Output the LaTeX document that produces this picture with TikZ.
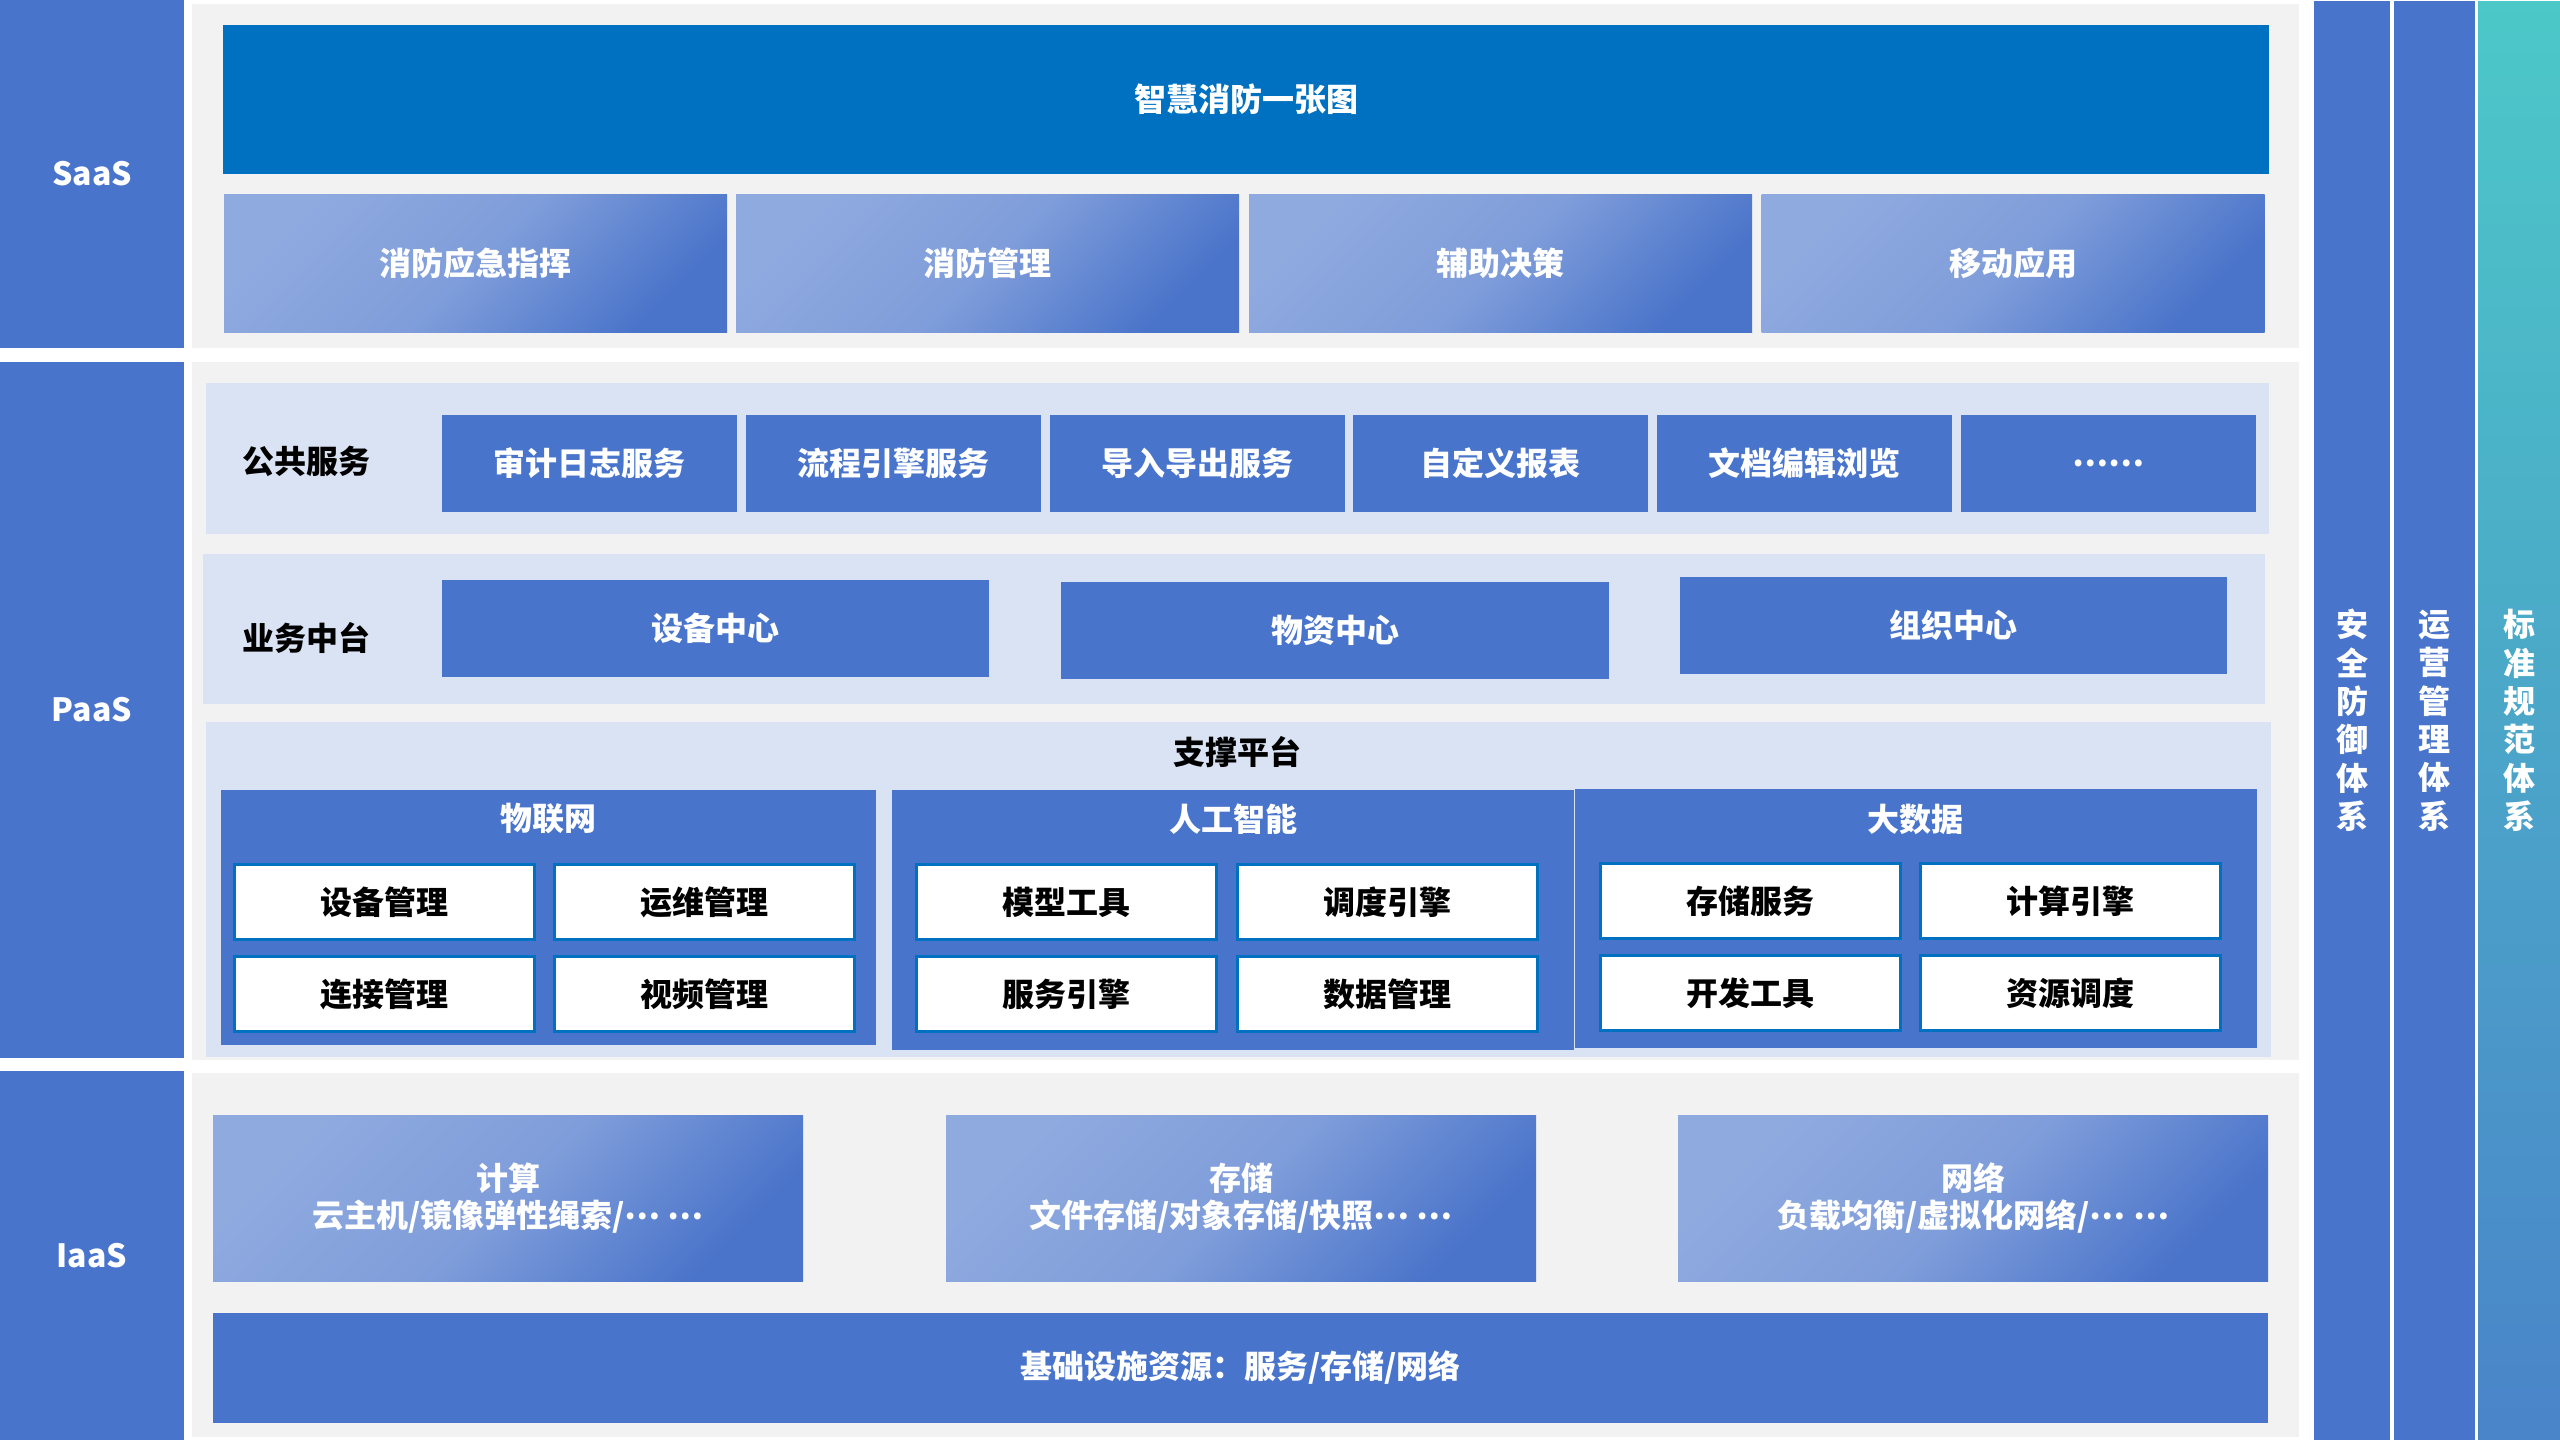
\documentclass[tikz,border=0pt]{standalone}
\usepackage{fontspec}
\setmainfont{Noto Sans CJK SC}
\usepackage{xcolor}
\usepackage{tikz}
\definecolor{layerblue}{HTML}{4874CB}
\definecolor{panelgray}{HTML}{F2F2F2}
\definecolor{bandblue}{HTML}{DAE3F3}
\definecolor{topblue}{HTML}{0070C0}
\definecolor{gradlight}{HTML}{8FAADF}
\definecolor{gradmid}{HTML}{7F9DDA}
\definecolor{graddark}{HTML}{4A74CA}
\definecolor{stdteal}{HTML}{4CC8C8}
\definecolor{stdblue}{HTML}{4A84C9}
\tikzset{
  archtext/.style={font=\fontsize{32}{37}\selectfont\bfseries,inner sep=0pt,outer sep=0pt,align=center},
  layerbar/.style={archtext,fill=layerblue,text=white,minimum width=184pt},
  layerpanel/.style={fill=panelgray,inner sep=0pt,minimum width=2107pt},
  topbox/.style={archtext,fill=topblue,text=white,minimum width=2046pt,minimum height=149pt},
  gradbox/.style={archtext,top color=gradlight,bottom color=graddark,middle color=gradmid,shading angle=45,text=white},
  band/.style={fill=bandblue,inner sep=0pt},
  bandlabel/.style={archtext,text=black},
  svcbox/.style={archtext,fill=layerblue,text=white,minimum height=97pt},
  grpbox/.style={fill=layerblue,inner sep=0pt},
  grptitle/.style={archtext,text=white},
  modbox/.style={archtext,draw=topblue,line width=3pt,fill=white,text=black,minimum width=300pt,minimum height=75pt},
  sidebar/.style={archtext,fill=layerblue,text=white,minimum height=1439pt,font=\fontsize{32}{38.4}\selectfont\bfseries}
}
\begin{document}
\begin{tikzpicture}[x=1pt,y=-1pt]
\useasboundingbox (0,0) rectangle (2560,1440);
% layer bars and panels
\node[layerbar,minimum height=348pt] (saas) at (92,174) {SaaS};
\node[layerbar,minimum height=696pt] (paas) at (92,710) {PaaS};
\node[layerbar,minimum height=369pt] (iaas) at (92,1255.5) {IaaS};
\node[layerpanel,minimum height=344pt] (saaspanel) at (1245.5,176) {};
\node[layerpanel,minimum height=698pt] (paaspanel) at (1245.5,711) {};
\node[layerpanel,minimum height=364pt] (iaaspanel) at (1245.5,1255) {};
% SaaS
\node[topbox] (firemap) at (1246,99.5) {智慧消防一张图};
\foreach \x/\t [count=\i] in {475.5/消防应急指挥,987.5/消防管理,1500.5/辅助决策,2013/移动应用}
  {\node[gradbox,minimum width=503pt,minimum height=138pt] (app\i) at (\x,263) {\t};}
% PaaS
\node[band,minimum width=2063pt,minimum height=151pt] (pubband) at (1237.5,458.5) {};
\node[bandlabel] (pub) at (306,461) {公共服务};
\foreach \x/\t [count=\i] in {589.5/审计日志服务,893.5/流程引擎服务,1197/导入导出服务,1500.5/自定义报表,1804.5/文档编辑浏览,2108/……}
  {\node[svcbox,minimum width=295pt] (svc\i) at (\x,463.5) {\t};}
\node[band,minimum width=2062pt,minimum height=150pt] (bizband) at (1234,629) {};
\node[bandlabel] (biz) at (306,638) {业务中台};
\node[svcbox,minimum width=547pt] (devcenter) at (715.5,628) {设备中心};
\node[svcbox,minimum width=548pt] (matcenter) at (1335,630.5) {物资中心};
\node[svcbox,minimum width=547pt] (orgcenter) at (1953.5,625.5) {组织中心};
\node[band,minimum width=2065pt,minimum height=335pt] (supband) at (1238.5,889.5) {};
\node[bandlabel] (sup) at (1237,752) {支撑平台};
\node[grpbox,minimum width=655pt,minimum height=255pt] (iot) at (548.5,917.5) {};
\node[grpbox,minimum width=682pt,minimum height=260pt] (ai) at (1233,920) {};
\node[grpbox,minimum width=682pt,minimum height=259pt] (bigdata) at (1916,918.5) {};
\node[grptitle] (iottitle) at (548,819) {物联网};
\node[grptitle] (aititle) at (1233,819) {人工智能};
\node[grptitle] (bdtitle) at (1915,819) {大数据};
\foreach \x/\y/\t [count=\i] in {384.5/902/设备管理,704.5/902/运维管理,384.5/994/连接管理,704.5/994/视频管理,
  1066.5/902/模型工具,1387/902/调度引擎,1066.5/994/服务引擎,1387/994/数据管理,
  1750/901/存储服务,2070.5/901/计算引擎,1750/993/开发工具,2070.5/993/资源调度}
  {\node[modbox] (mod\i) at (\x,\y) {\t};}
% IaaS
\node[gradbox,minimum width=590pt,minimum height=166pt] (compute) at (508,1198) {计算\\云主机/镜像弹性绳索/\raisebox{.25em}{… …}};
\node[gradbox,minimum width=590pt,minimum height=166pt] (storage) at (1241,1198) {存储\\文件存储/对象存储/快照\raisebox{.25em}{… …}};
\node[gradbox,minimum width=590pt,minimum height=166pt] (network) at (1973,1198) {网络\\负载均衡/虚拟化网络/\raisebox{.25em}{… …}};
\node[svcbox,minimum width=2055pt,minimum height=110pt] (infra) at (1240.5,1368) {基础设施资源：服务/存储/网络};
% side bars
\node[sidebar,minimum width=76pt] (security) at (2352,720.5) {安\\全\\防\\御\\体\\系};
\node[sidebar,minimum width=81pt] (operation) at (2434.5,720.5) {运\\营\\管\\理\\体\\系};
\node[sidebar,top color=stdteal,bottom color=stdblue,minimum width=82pt] (standard) at (2519,720.5) {标\\准\\规\\范\\体\\系};
\end{tikzpicture}
\end{document}
